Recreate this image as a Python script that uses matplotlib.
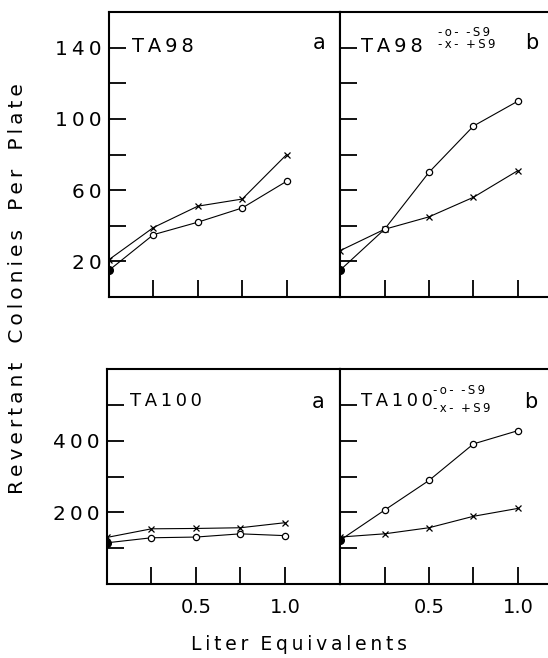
import matplotlib
matplotlib.use("Agg")
import matplotlib.pyplot as plt

# liter equivalents (x) and revertant colonies per plate
liter_eq = [0.0, 0.25, 0.5, 0.75, 1.0]

ta98_a_minus = [15, 35, 42, 50, 65]
ta98_a_plus = [21, 39, 51, 55, 80]
ta98_b_minus = [15, 38, 70, 96, 110]
ta98_b_plus = [26, 38, 45, 56, 71]

ta100_a_minus = [115, 129, 131, 140, 135]
ta100_a_plus = [130, 154, 155, 157, 171]
ta100_b_minus = [122, 206, 289, 391, 428]
ta100_b_plus = [131, 140, 157, 189, 211]

ta98_yticks = [20, 40, 60, 80, 100, 120, 140]
ta98_ylabels = ["20", "", "60", "", "100", "", "140"]
ta100_yticks = [100, 200, 300, 400, 500]
ta100_ylabels = ["", "200", "", "400", ""]
xticks = [0.25, 0.5, 0.75, 1.0]
xlabels = ["", "0.5", "", "1.0"]

W, H = 548, 658
FONT = "DejaVu Sans"
TS = "\u2009"  # thin space, used to open up the lettering


def spaced(s):
    return TS.join(s)


def box(left, top, right, bottom):
    return [left / W, 1 - bottom / H, (right - left) / W, (bottom - top) / H]


def style_axes(ax, xmax, ylim, yticks, ylabels, show_x, show_y):
    ax.set_xlim(0, xmax)
    ax.set_ylim(*ylim)
    ax.set_xticks(xticks)
    ax.set_yticks(yticks)
    ax.set_xticklabels(xlabels if show_x else [""] * len(xticks))
    ax.set_yticklabels([spaced(t) for t in ylabels] if show_y
                       else [""] * len(yticks))
    ax.tick_params(direction="in", length=12.5, width=1.3, labelsize=14.5,
                   pad=5, color="black")
    ax.tick_params(axis="x", pad=10, labelsize=14)
    for s in ax.spines.values():
        s.set_linewidth(1.5)
    for lab in ax.get_xticklabels() + ax.get_yticklabels():
        lab.set_family(FONT)


def draw_series(ax, minus, plus):
    ax.plot(liter_eq, plus, color="black", lw=0.8, marker="x", ms=4.5,
            mew=0.9, zorder=3)
    ax.plot(liter_eq, minus, color="black", lw=0.8, marker="o", ms=4.5,
            mfc="white", mec="black", mew=0.9, zorder=4)
    ax.plot(liter_eq[0], minus[0], marker="o", ms=5.5, color="black", zorder=5)


fig = plt.figure(figsize=(W / 100, H / 100), dpi=100)

ax1 = fig.add_axes(box(109, 12, 340, 297))
ax2 = fig.add_axes(box(340, 12, 340 + 1.35 * 178, 297))
ax3 = fig.add_axes(box(107, 369, 340, 584))
ax4 = fig.add_axes(box(340, 369, 340 + 1.35 * 178, 584))

draw_series(ax1, ta98_a_minus, ta98_a_plus)
draw_series(ax2, ta98_b_minus, ta98_b_plus)
draw_series(ax3, ta100_a_minus, ta100_a_plus)
draw_series(ax4, ta100_b_minus, ta100_b_plus)

style_axes(ax1, 1.3, (0, 160), ta98_yticks, ta98_ylabels, False, True)
style_axes(ax2, 1.35, (0, 160), ta98_yticks, ta98_ylabels, False, False)
style_axes(ax3, 1.31, (0, 600), ta100_yticks, ta100_ylabels, True, True)
style_axes(ax4, 1.35, (0, 600), ta100_yticks, ta100_ylabels, True, False)


# strain names, panel letters, key
def ftext(x, y, s, size=14, ha="left", va="center", rot=0):
    fig.text(x / W, 1 - y / H, s, fontsize=size, ha=ha, va=va, family=FONT,
             rotation=rot)


ftext(132, 46, spaced("TA98"))
ftext(361, 46, spaced("TA98"))
ftext(130, 401, spaced("TA100"), size=13)
ftext(361, 401, spaced("TA100"), size=13)
ftext(319, 43, "a", size=15, ha="center")
ftext(532, 43, "b", size=15, ha="center")
ftext(318, 402, "a", size=15, ha="center")
ftext(531, 402, "b", size=15, ha="center")
ftext(438, 32, spaced("-o-") + "  " + spaced("-S9"), size=8.5)
ftext(438, 45, spaced("-x-") + "  " + spaced("+S9"), size=8.5)
ftext(433, 390, spaced("-o-") + "  " + spaced("-S9"), size=8.5)
ftext(433, 408, spaced("-x-") + "  " + spaced("+S9"), size=8.5)

ylab = "   ".join(spaced(w) for w in ["Revertant", "Colonies", "Per", "Plate"])
ftext(18, 289, ylab, size=14.5, ha="center", rot=90)
xlab = "  ".join(spaced(w) for w in ["Liter", "Equivalents"])
ftext(299, 645, xlab, size=13.5, ha="center")

fig.savefig("out.png", dpi=100)
